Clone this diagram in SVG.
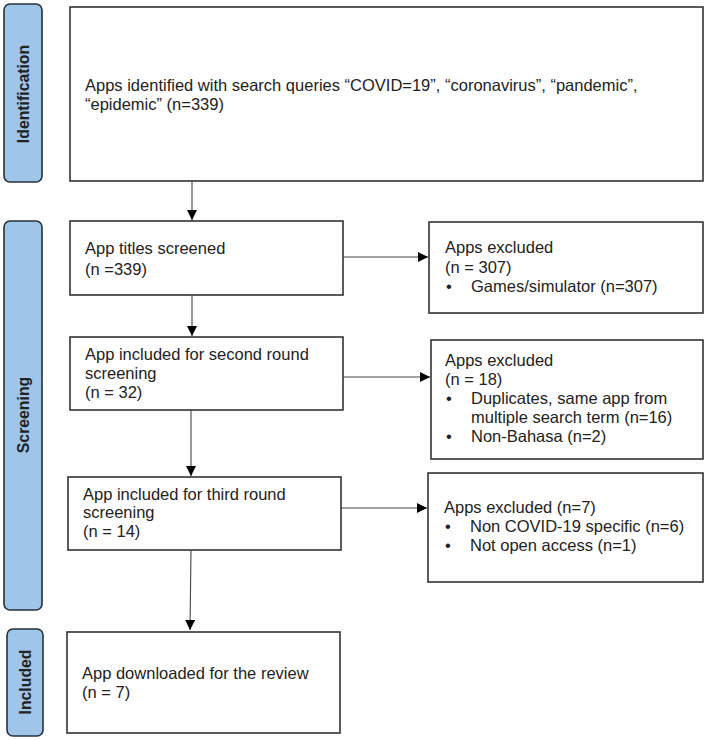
<svg xmlns="http://www.w3.org/2000/svg" width="708" height="740" viewBox="0 0 708 740">
<defs>
<marker id="ah" markerWidth="10" markerHeight="10" refX="10" refY="5" orient="auto" markerUnits="userSpaceOnUse">
<path d="M0,0 L10,5 L0,10 Z" fill="#000"/>
</marker>
<style>
.box{fill:#fff;stroke:#333;stroke-width:1.6}
.side{fill:#9fc5e8;stroke:#26303b;stroke-width:1.6}
.t{font-family:"Liberation Sans",Arial,sans-serif;font-size:16.5px;fill:#222}
.s{font-family:"Liberation Sans",Arial,sans-serif;font-size:15.8px;font-weight:bold;fill:#222}
.c{stroke:#444;stroke-width:1.1;fill:none;marker-end:url(#ah)}
</style>
</defs>
<rect width="708" height="740" fill="#fff"/>
<g id="side-identification">
<rect class="side" x="4" y="4" width="38" height="178" rx="6"/>
<text class="s" transform="translate(29,94) rotate(-90)" text-anchor="middle">Identification</text>
</g>
<g id="side-screening">
<rect class="side" x="4" y="221" width="38" height="389" rx="6"/>
<text class="s" transform="translate(29,415) rotate(-90)" text-anchor="middle">Screening</text>
</g>
<g id="side-included">
<rect class="side" x="7" y="629" width="36" height="107" rx="6"/>
<text class="s" transform="translate(31,682) rotate(-90)" text-anchor="middle">Included</text>
</g>
<g id="n-identified">
<rect class="box" x="70" y="7" width="633" height="174"/>
<text class="t" x="85" y="91">Apps identified with search queries “COVID=19”, “coronavirus”, “pandemic”,</text>
<text class="t" x="85" y="110">“epidemic” (n=339)</text>
</g>
<g id="n-titles">
<rect class="box" x="70" y="221" width="273" height="74"/>
<text class="t" x="85" y="254">App titles screened</text>
<text class="t" x="85" y="275">(n =339)</text>
</g>
<g id="n-second">
<rect class="box" x="70" y="337" width="273" height="73"/>
<text class="t" x="85" y="360">App included for second round</text>
<text class="t" x="85" y="379">screening</text>
<text class="t" x="85" y="398">(n = 32)</text>
</g>
<g id="n-third">
<rect class="box" x="68" y="477" width="273" height="73"/>
<text class="t" x="83" y="500">App included for third round</text>
<text class="t" x="83" y="518">screening</text>
<text class="t" x="83" y="537">(n = 14)</text>
</g>
<g id="n-downloaded">
<rect class="box" x="67" y="632" width="273" height="101"/>
<text class="t" x="82" y="679">App downloaded for the review</text>
<text class="t" x="82" y="698">(n = 7)</text>
</g>
<g id="n-excl1">
<rect class="box" x="429" y="222" width="274" height="91"/>
<text class="t" x="445" y="253">Apps excluded</text>
<text class="t" x="445" y="273">(n = 307)</text>
<text class="t" x="446" y="292">•</text>
<text class="t" x="471" y="292">Games/simulator (n=307)</text>
</g>
<g id="n-excl2">
<rect class="box" x="431" y="340" width="272" height="119"/>
<text class="t" x="445" y="366">Apps excluded</text>
<text class="t" x="445" y="385">(n = 18)</text>
<text class="t" x="446" y="404">•</text>
<text class="t" x="471" y="404">Duplicates, same app from</text>
<text class="t" x="471" y="423">multiple search term (n=16)</text>
<text class="t" x="446" y="442">•</text>
<text class="t" x="471" y="442">Non-Bahasa (n=2)</text>
</g>
<g id="n-excl3">
<rect class="box" x="428" y="473" width="275" height="109"/>
<text class="t" x="444" y="513">Apps excluded (n=7)</text>
<text class="t" x="445" y="532">•</text>
<text class="t" x="470" y="532">Non COVID-19 specific (n=6)</text>
<text class="t" x="445" y="551">•</text>
<text class="t" x="470" y="551">Not open access (n=1)</text>
</g>
<g id="connectors">
<line class="c" x1="192" y1="181" x2="192" y2="220"/>
<line class="c" x1="192" y1="295" x2="192" y2="336"/>
<line class="c" x1="191" y1="410" x2="191" y2="476"/>
<line class="c" x1="191" y1="550" x2="190" y2="630"/>
<line class="c" x1="343" y1="257" x2="428" y2="257"/>
<line class="c" x1="343" y1="377" x2="430" y2="377"/>
<line class="c" x1="341" y1="508" x2="427" y2="508"/>
</g>
</svg>
